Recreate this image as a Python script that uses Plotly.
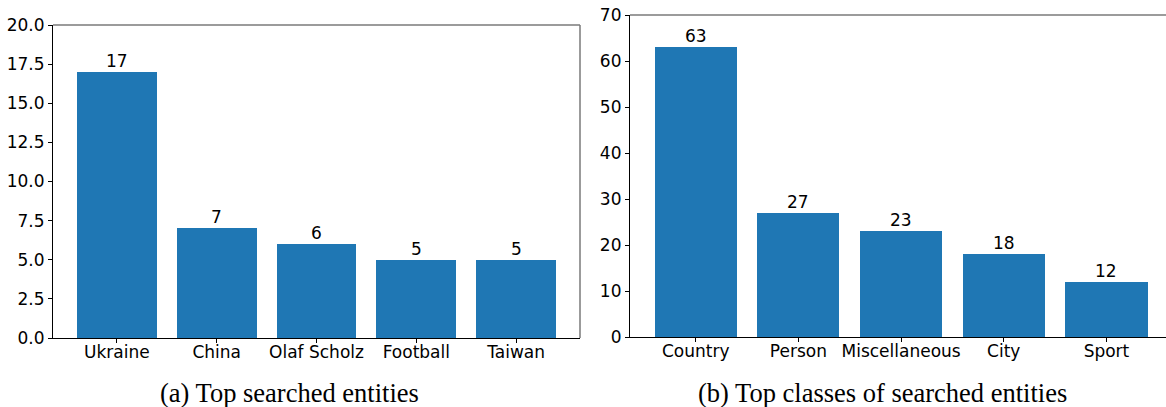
import plotly.graph_objects as go

# Panel (a): most searched entities
entities = ["Ukraine", "China", "Olaf Scholz", "Football", "Taiwan"]
entity_counts = [17, 7, 6, 5, 5]

# Panel (b): most searched entity classes
classes = ["Country", "Person", "Miscellaneous", "City", "Sport"]
class_counts = [63, 27, 23, 18, 12]

captions = ["(a) Top searched entities", "(b) Top classes of searched entities"]

W, H = 1166, 407
BAR = "#1f77b4"
TICK_FONT = dict(family="DejaVu Sans", size=17, color="black")


def px_x(p):
    return p / W


def px_y(p):
    return (H - p) / H


fig = go.Figure()

fig.add_trace(go.Bar(x=list(range(len(entities))), y=entity_counts, width=0.8,
                     marker=dict(color=BAR, line=dict(width=0)),
                     xaxis="x", yaxis="y", showlegend=False, hoverinfo="skip"))
fig.add_trace(go.Bar(x=list(range(len(classes))), y=class_counts, width=0.8,
                     marker=dict(color=BAR, line=dict(width=0)),
                     xaxis="x2", yaxis="y2", showlegend=False, hoverinfo="skip"))

annotations = []
for i, v in enumerate(entity_counts):
    annotations.append(dict(x=i, y=v, xref="x", yref="y", text=str(v), showarrow=False,
                            yanchor="bottom", yshift=-1, font=TICK_FONT))
for i, v in enumerate(class_counts):
    annotations.append(dict(x=i, y=v, xref="x2", yref="y2", text=str(v), showarrow=False,
                            yanchor="bottom", yshift=-1, font=TICK_FONT))

cap_font = dict(family="Liberation Serif", size=26.5, color="black")
annotations.append(dict(x=px_x(289), y=px_y(393), xref="paper", yref="paper",
                        text=captions[0], showarrow=False, xanchor="center",
                        yanchor="middle", font=cap_font))
annotations.append(dict(x=px_x(882), y=px_y(393), xref="paper", yref="paper",
                        text=captions[1], showarrow=False, xanchor="center",
                        yanchor="middle", font=cap_font))

axis_common = dict(showline=True, linecolor="black", linewidth=1.2, ticks="outside",
                   ticklen=4, tickwidth=1, tickcolor="black", showgrid=False,
                   zeroline=False, tickfont=TICK_FONT, automargin=False, layer="above traces")

left_dom = [px_x(53), px_x(580)]
right_dom = [px_x(630), 1.0]
left_ydom = [px_y(338), px_y(25)]
right_ydom = [px_y(337.3), px_y(15)]

fig.update_layout(
    width=W, height=H,
    margin=dict(l=0, r=0, t=0, b=0, autoexpand=False),
    paper_bgcolor="white", plot_bgcolor="white",
    bargap=0,
    xaxis=dict(domain=left_dom, anchor="y", range=[-0.64, 4.64],
               tickmode="array", tickvals=list(range(len(entities))), ticktext=entities,
               ticklabelstandoff=-6, **axis_common),
    yaxis=dict(domain=left_ydom, anchor="x", range=[0, 20],
               tickmode="array", tickvals=[0, 2.5, 5, 7.5, 10, 12.5, 15, 17.5, 20],
               tickformat=".1f", **axis_common),
    xaxis2=dict(domain=right_dom, anchor="y2", range=[-0.64, 4.58],
                tickmode="array", tickvals=list(range(len(classes))), ticktext=classes,
                ticklabelstandoff=-6, **axis_common),
    yaxis2=dict(domain=right_ydom, anchor="x2", range=[0, 70],
                tickmode="array", tickvals=list(range(0, 71, 10)), **axis_common),
    annotations=annotations,
    shapes=[
        # upper and right frame edges
        dict(type="line", xref="paper", yref="paper", x0=left_dom[0], x1=left_dom[1],
             y0=left_ydom[1], y1=left_ydom[1], line=dict(color="#7a7a7a", width=1.5)),
        dict(type="line", xref="paper", yref="paper", x0=left_dom[1], x1=left_dom[1],
             y0=left_ydom[0], y1=left_ydom[1], line=dict(color="#7a7a7a", width=1.5)),
        dict(type="line", xref="paper", yref="paper", x0=right_dom[0], x1=right_dom[1],
             y0=right_ydom[1], y1=right_ydom[1], line=dict(color="#7a7a7a", width=1.5)),
    ],
)

fig.write_html("out.html")
